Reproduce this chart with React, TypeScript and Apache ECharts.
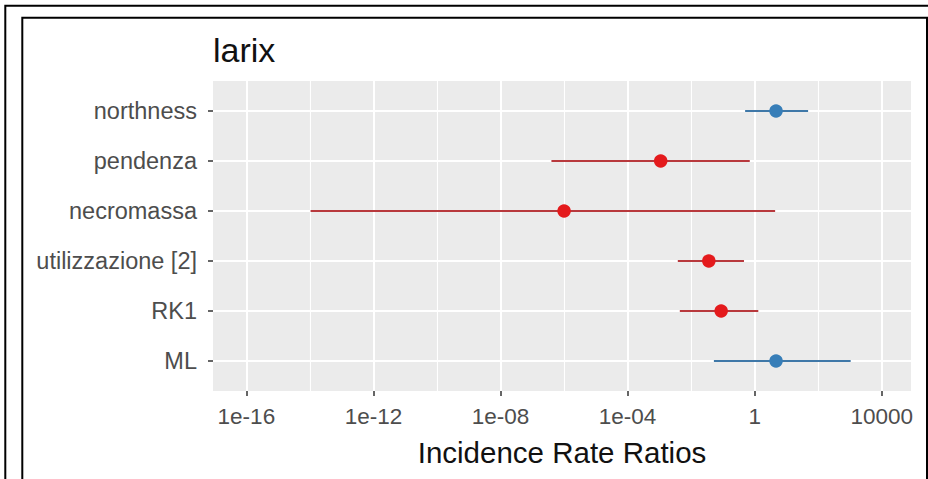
import React, { useEffect, useRef } from "react";
import * as echarts from "echarts";

// Categories, top to bottom
const categories = ["northness", "pendenza", "necromassa", "utilizzazione [2]", "RK1", "ML"];
// Incidence rate ratios (point estimates) and confidence limits
const estimates = [4.7, 0.0011, 1e-6, 0.036, 0.088, 4.7];
const lower = [0.5, 4e-7, 1.05e-14, 0.0038, 0.0044, 0.052];
const upper = [48, 0.7, 4.4, 0.46, 1.3, 1050];

// X axis ticks
const tickValues = [1e-16, 1e-12, 1e-8, 1e-4, 1, 1e4];
const tickLabels = ["1e-16", "1e-12", "1e-08", "1e-04", "1", "10000"];
const minorTickValues = [1e-14, 1e-10, 1e-6, 1e-2, 1e2];
const xMin = 10 ** -17.05;
const xMax = 10 ** 4.92;

const RED = "#E41A1C";
const BLUE = "#377EB8";
const RED_LINE = "#b8393d";
const BLUE_LINE = "#3f78a8";
const FONT = "'Liberation Sans', Arial, sans-serif";

export default function App() {
  const ref = useRef<HTMLDivElement>(null);
  useEffect(() => {
    if (!ref.current) return;
    document.body.style.margin = "0";
    const chart = echarts.init(ref.current, null, { renderer: "svg" });
    const n = categories.length;
    const pos = categories.map((_, i) => n - i);
    const lg = (v: number) => Math.log10(v);
    const majorLog = tickValues.map(lg);
    const minorLog = minorTickValues.map(lg);

    const option: any = {
      animation: false,
      backgroundColor: "#ffffff",
      title: {
        text: "larix",
        left: 213,
        top: 33,
        padding: 0,
        textStyle: { fontSize: 34, fontWeight: "normal", color: "#111", fontFamily: FONT },
      },
      grid: { left: 213, right: 17, top: 81, bottom: 88, backgroundColor: "#EBEBEB", show: true, borderWidth: 0 },
      xAxis: [
        {
          type: "value",
          min: lg(xMin),
          max: lg(xMax),
          name: "Incidence Rate Ratios",
          nameLocation: "middle",
          nameGap: 46,
          nameTextStyle: { fontSize: 29.5, color: "#111", fontFamily: FONT },
          axisLine: { show: false, onZero: false },
          axisTick: { show: true, length: 5, lineStyle: { color: "#333", width: 1.5 }, customValues: majorLog },
          axisLabel: {
            customValues: majorLog,
            margin: 14,
            fontSize: 22.5,
            color: "#4D4D4D",
            fontFamily: FONT,
            formatter: (v: number) => {
              const idx = majorLog.findIndex((m) => Math.abs(m - v) < 1e-6);
              return idx >= 0 ? tickLabels[idx] : "";
            },
          },
          splitLine: { show: true, lineStyle: { color: "#ffffff", width: 2 } },
          z: 1,
        },
        {
          type: "value",
          min: lg(xMin),
          max: lg(xMax),
          position: "bottom",
          axisLine: { show: false, onZero: false },
          axisTick: { show: false, customValues: minorLog },
          axisLabel: { show: false, customValues: minorLog },
          splitLine: { show: true, lineStyle: { color: "#ffffff", width: 1.1 } },
          z: 0,
        },
      ],
      yAxis: {
        type: "value",
        min: 0.4,
        max: n + 0.6,
        axisLine: { show: false, onZero: false },
        axisTick: { show: true, length: 5, lineStyle: { color: "#333", width: 1.5 }, customValues: pos },
        axisLabel: {
          customValues: pos,
          margin: 16,
          fontSize: 23.5,
          color: "#4D4D4D",
          fontFamily: FONT,
          formatter: (v: number) => {
            const i = n - Math.round(v);
            return categories[i] ?? "";
          },
        },
        splitLine: { show: true, lineStyle: { color: "#ffffff", width: 2 } },
      },
      series: [
        {
          type: "lines",
          coordinateSystem: "cartesian2d",
          xAxisIndex: 0,
          yAxisIndex: 0,
          silent: true,
          data: categories.map((_, i) => ({
            coords: [
              [lg(lower[i]), pos[i]],
              [lg(upper[i]), pos[i]],
            ],
            lineStyle: { color: estimates[i] > 1 ? BLUE_LINE : RED_LINE, width: 2, opacity: 1 },
          })),
          z: 3,
        },
        {
          type: "scatter",
          xAxisIndex: 0,
          yAxisIndex: 0,
          symbol: "circle",
          symbolSize: 13.5,
          silent: true,
          data: categories.map((_, i) => ({
            value: [lg(estimates[i]), pos[i]],
            itemStyle: { color: estimates[i] > 1 ? BLUE : RED, opacity: 1 },
          })),
          z: 4,
        },
      ],
      graphic: [
        {
          type: "rect",
          shape: { x: 5.3, y: 5.8, width: 1200, height: 1200 },
          style: { fill: "none", stroke: "#000", lineWidth: 2 },
          z: 100,
        },
        {
          type: "rect",
          shape: { x: 22.3, y: 17.7, width: 904.7, height: 1200 },
          style: { fill: "none", stroke: "#000", lineWidth: 2 },
          z: 100,
        },
      ],
    };
    chart.setOption(option);
    return () => chart.dispose();
  }, []);
  return (
    <div
      ref={ref}
      style={{ position: "absolute", left: 0, top: 0, width: 928, height: 479 }}
    />
  );
}
